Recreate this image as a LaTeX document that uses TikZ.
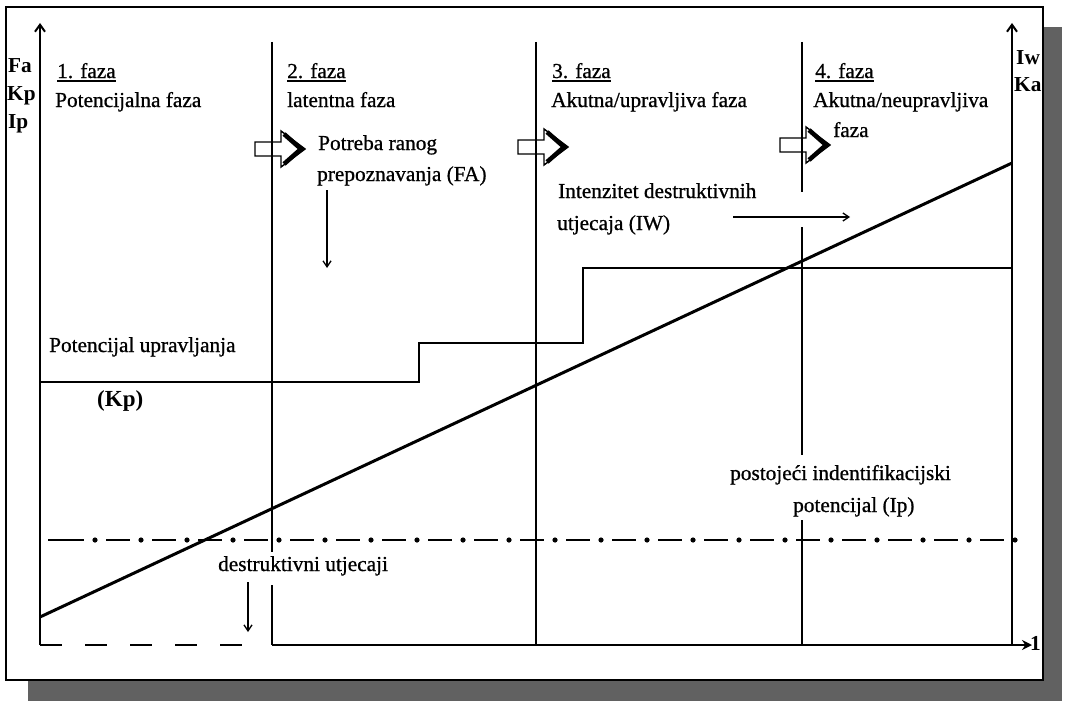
\documentclass[tikz,border=0pt]{standalone}
\usepackage{fontspec}
\setmainfont{Liberation Serif}
\newfontfamily\scanfont[FakeBold=0.8]{Liberation Serif}
\usetikzlibrary{arrows.meta}
\newcommand\fazaul[1]{\setbox0\hbox{#1}\rlap{\rule[-3.5pt]{\wd0}{1.8pt}}\box0}
\begin{document}
\begin{tikzpicture}[x=1pt,y=-1pt,
  txt/.style={anchor=base west, inner sep=0pt, font=\scanfont\fontsize{21.3}{25}\selectfont},
  bld/.style={anchor=base west, inner sep=0pt, font=\fontsize{21.3}{25}\selectfont\bfseries},
  axis/.style={line width=2pt, -{Straight Barb[length=7pt,width=10pt,line width=2pt]}},
  haxis/.style={line width=2pt, -{Stealth[length=10pt,width=10pt]}},
  phaseline/.style={line width=1.6pt},
  stepline/.style={line width=1.5pt},
  diag/.style={line width=3pt},
  dashseg/.style={line width=2pt},
  dashedbase/.style={line width=2pt, dash pattern=on 22pt off 23pt},
  pointer/.style={line width=1.3pt, -{Straight Barb[length=6pt,width=8pt,line width=1.3pt]}},
  shadow/.style={fill=black!62},
  frame/.style={line width=2pt, fill=white},
  harrow/.pic={
    \draw[line width=1.4pt] (0,-7) -- (26,-7) -- (26,-18) -- (50,0) -- (26,18) -- (26,7) -- (0,7) -- cycle;
    \draw[line width=4.5pt, line join=miter] (29,-15) -- (46,0) -- (29,15);
  }]
\useasboundingbox (0,0) rectangle (1065,701);
% shadow and frame
\fill[shadow] (1043,27) rectangle (1062,701);
\fill[shadow] (28,680) rectangle (1062,701);
\draw[frame] (6,7) rectangle (1043,680);

% coordinates
\coordinate (O) at (40,645);
\coordinate (Ytop) at (40,23);
\coordinate (Dend) at (245,645);
\coordinate (Xs) at (272,645);
\coordinate (Xe) at (1032,645);
\coordinate (R0) at (1012,645);
\coordinate (Rtop) at (1012,23);
\coordinate (P2t) at (272,42);
\coordinate (P2a) at (272,552);
\coordinate (P2b) at (272,585);
\coordinate (P3t) at (536,42);
\coordinate (P3b) at (536,645);
\coordinate (P4t) at (802,42);
\coordinate (P4a) at (802,192);
\coordinate (P4b) at (802,227);
\coordinate (P4c) at (802,455);
\coordinate (P4d) at (802,520);
\coordinate (P4e) at (802,645);
\coordinate (S0) at (40,382);
\coordinate (S1) at (419,382);
\coordinate (S2) at (419,343);
\coordinate (S3) at (583,343);
\coordinate (S4) at (583,268);
\coordinate (S5) at (1012,268);
\coordinate (L0) at (40,617);
\coordinate (L1) at (1012,163);
\coordinate (A1s) at (327,190);
\coordinate (A1e) at (327,268);
\coordinate (A2s) at (248,582);
\coordinate (A2e) at (248,632);
\coordinate (A3s) at (733,217);
\coordinate (A3e) at (850,217);

% axes
\draw[axis] (O) -- (Ytop);
\draw[dashedbase] (O) -- (Dend);
\draw[haxis] (Xs) -- (Xe);
\draw[axis] (R0) -- (Rtop);

% phase lines
\draw[phaseline] (P2t) -- (P2a);
\draw[phaseline] (P2b) -- (Xs);
\draw[phaseline] (P3t) -- (P3b);
\draw[phaseline] (P4t) -- (P4a);
\draw[phaseline] (P4b) -- (P4c);
\draw[phaseline] (P4d) -- (P4e);

% curves
\draw[stepline] (S0) -- (S1) -- (S2) -- (S3) -- (S4) -- (S5);
\draw[diag] (L0) -- (L1);
% dash-dot level line
\draw[dashseg] (48,540) -- (84,540);
\foreach \k in {0,...,20} {
  \fill ({95+46*\k},540) circle (2.6pt);
}
\foreach \k in {0,...,19} {
  \draw[dashseg] ({95+46*\k+11},540) -- ({95+46*\k+35},540);
}

% pointers
\draw[pointer] (A1s) -- (A1e);
\draw[pointer] (A2s) -- (A2e);
\draw[pointer] (A3s) -- (A3e);

% hollow arrows
\pic at (255,149) {harrow};
\pic at (518,147) {harrow};
\pic at (780,145) {harrow};

% texts
\node[bld] (fa) at (8,72) {Fa};
\node[bld] (kp) at (7,100) {Kp};
\node[bld] (ip) at (8,128) {Ip};
\node[bld] (iw) at (1016,65) {Iw};
\node[bld] (ka) at (1014,92) {Ka};
\node[bld] (one) at (1030,650) {1};

\node[txt] (f1) at (57,78) {\fazaul{1. faza}};
\node[txt] (f1b) at (55,107) {Potencijalna faza};
\node[txt] (f2) at (287,78) {\fazaul{2. faza}};
\node[txt] (f2b) at (287,107) {latentna faza};
\node[txt] (f3) at (552,78) {\fazaul{3. faza}};
\node[txt] (f3b) at (551,107) {Akutna/upravljiva faza};
\node[txt] (f4) at (815,78) {\fazaul{4. faza}};
\node[txt] (f4b) at (813,107) {Akutna/neupravljiva};
\node[txt] (f4c) at (833,137) {faza};

\node[txt] (pr1) at (318,150) {Potreba ranog};
\node[txt] (pr2) at (317,181) {prepoznavanja (FA)};
\node[txt] (iw1) at (558,198) {Intenzitet destruktivnih};
\node[txt] (iw2) at (557,230) {utjecaja (IW)};
\node[txt] (pu) at (49,352) {Potencijal upravljanja};
\node[bld, font=\fontsize{23}{27}\selectfont\bfseries] (kpl) at (97,406) {(Kp)};
\node[txt] (du) at (218,571) {destruktivni utjecaji};
\node[txt] (ip1) at (730,480) {postojeći indentifikacijski};
\node[txt] (ip2) at (793,512) {potencijal (Ip)};
\end{tikzpicture}
\end{document}
